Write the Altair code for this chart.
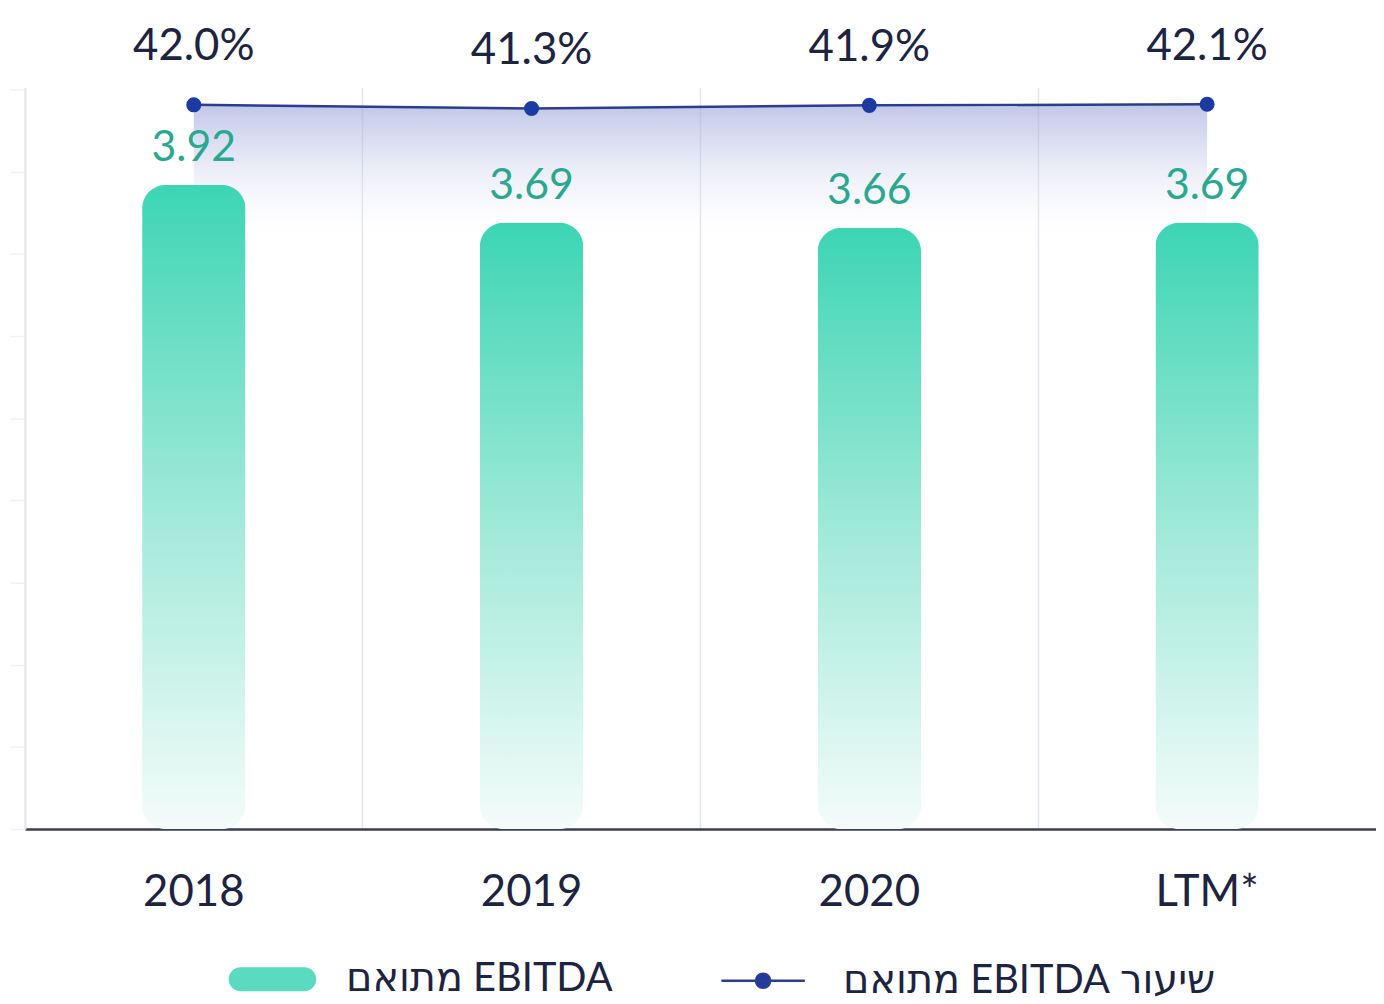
import altair as alt
import pandas as pd

# ---- data ----
categories = ['2018', '2019', '2020', 'LTM*']
ebitda_values = [3.92, 3.69, 3.66, 3.69]
ebitda_labels = ['3.92', '3.69', '3.66', '3.69']
margin_values = [42.0, 41.3, 41.9, 42.1]
margin_labels = ['42.0%', '41.3%', '41.9%', '42.1%']
bar_series = '\u202bEBITDA מתואם\u202c'
line_series = '\u202bשיעור EBITDA מתואם\u202c'

W, H = 1359, 746
FONT = 'Lato, DejaVu Sans, sans-serif'
NAVY_TXT = '#1c2441'
LINE_C = '#2c3d8e'
DOT_C = '#1b3ba3'
TEAL_TXT = '#2aa88f'

df = pd.DataFrame({
    'cat': categories,
    'ebitda': ebitda_values,
    'elabel': ebitda_labels,
    'margin': margin_values,
    'mlabel': margin_labels,
    'line_series': [line_series] * len(categories),
})
legend_df = pd.DataFrame({'cat': [categories[0]], 'ebitda': [-1.0], 'bar_series': [bar_series]})

x = alt.X('cat:N', sort=categories, title=None,
          scale=alt.Scale(paddingInner=0, paddingOuter=0),
          axis=alt.Axis(bandPosition=0, grid=True, gridColor='#e4e5ea',
                        gridWidth=1.5, ticks=False, domainColor='#3a3f55', domainWidth=2.5,
                        labelFont=FONT, labelFontSize=44, labelColor=NAVY_TXT,
                        labelPadding=42, labelAngle=0))

y_m = alt.Y('margin:Q', scale=alt.Scale(domain=[-95.7, 45.3], nice=False, zero=False), axis=None)
y_b = alt.Y('ebitda:Q', title=None, scale=alt.Scale(domain=[0, 4.513], nice=False),
            axis=alt.Axis(orient='left', values=[0, 0.5, 1, 1.5, 2, 2.5, 3, 3.5, 4, 4.5],
                          labels=False, grid=False, tickSize=15, tickColor='#f1f1f1',
                          tickWidth=1.5, domainColor='#e6e6e6', domainWidth=2))

area_grad = alt.Gradient(gradient='linear', x1=0, x2=0, y1=0, y2=1, stops=[
    alt.GradientStop(color='rgba(150,160,215,0.6)', offset=0),
    alt.GradientStop(color='rgba(185,192,230,0.35)', offset=0.4),
    alt.GradientStop(color='rgba(255,255,255,0)', offset=1),
])
bar_grad = alt.Gradient(gradient='linear', x1=0, x2=0, y1=0, y2=1, stops=[
    alt.GradientStop(color='#3cd5b4', offset=0),
    alt.GradientStop(color='#9fe9d8', offset=0.5),
    alt.GradientStop(color='#f4fcfa', offset=1),
])

LINE_PATH = ('M-1,0 L1,0 M0.17,0 A0.17,0.17 0 1 1 -0.17,0 '
             'A0.17,0.17 0 1 1 0.17,0 Z')
PILL_PATH = ('M-0.727,-0.273 L0.727,-0.273 A0.273,0.273 0 0 1 0.727,0.273 '
             'L-0.727,0.273 A0.273,0.273 0 0 1 -0.727,-0.273 Z')

base = alt.Chart(df)

area = base.mark_area(color=area_grad).encode(x=x, y=y_m, y2=alt.datum(15))
line = base.mark_line(strokeWidth=2.5).encode(
    x=x, y=y_m,
    color=alt.Color('line_series:N', scale=alt.Scale(range=[LINE_C]),
                    legend=alt.Legend(title=None, orient='none', legendX=699, legendY=855,
                                      symbolType=LINE_PATH, symbolSize=7056,
                                      symbolFillColor=DOT_C, symbolStrokeColor=LINE_C,
                                      symbolStrokeWidth=2.5, symbolOpacity=1,
                                      labelFont=FONT, labelFontSize=40, labelColor=NAVY_TXT,
                                      labelOffset=37, labelLimit=800, padding=0)))
points = base.mark_circle(size=230, color=DOT_C, opacity=1).encode(x=x, y=y_m)
pct = base.mark_text(dy=-58, fontSize=44, font=FONT, color=NAVY_TXT, baseline='middle').encode(
    x=x, y=y_m, text='mlabel:N')

bars = base.mark_bar(size=104, cornerRadius=24, color=bar_grad).encode(x=x, y=y_b)
bar_text = base.mark_text(dy=-37, fontSize=43, font=FONT, color=TEAL_TXT, baseline='middle').encode(
    x=x, y=y_b, text='elabel:N')
legend_dummy = alt.Chart(legend_df).mark_square(clip=True, size=10, opacity=1).encode(
    x=x, y=y_b,
    fill=alt.Fill('bar_series:N', scale=alt.Scale(range=['#5adbbf']),
                  legend=alt.Legend(title=None, orient='none', legendX=205, legendY=853,
                                    symbolType=PILL_PATH, symbolSize=7744, symbolOpacity=1,
                                    symbolStrokeWidth=0,
                                    labelFont=FONT, labelFontSize=40, labelColor=NAVY_TXT,
                                    labelOffset=30, labelLimit=800, padding=0)))

line_group = alt.layer(area, line, points, pct)
bar_group = alt.layer(bars, bar_text, legend_dummy)

chart = alt.layer(line_group, bar_group).resolve_scale(y='independent').properties(
    width=W, height=H,
    autosize=alt.AutoSizeParams(type='none'),
    padding={'left': 17, 'top': 77, 'right': 0, 'bottom': 176},
    background='white',
).configure_view(strokeWidth=0)

chart.save('out.html', embed_options={'renderer': 'svg', 'actions': False})
